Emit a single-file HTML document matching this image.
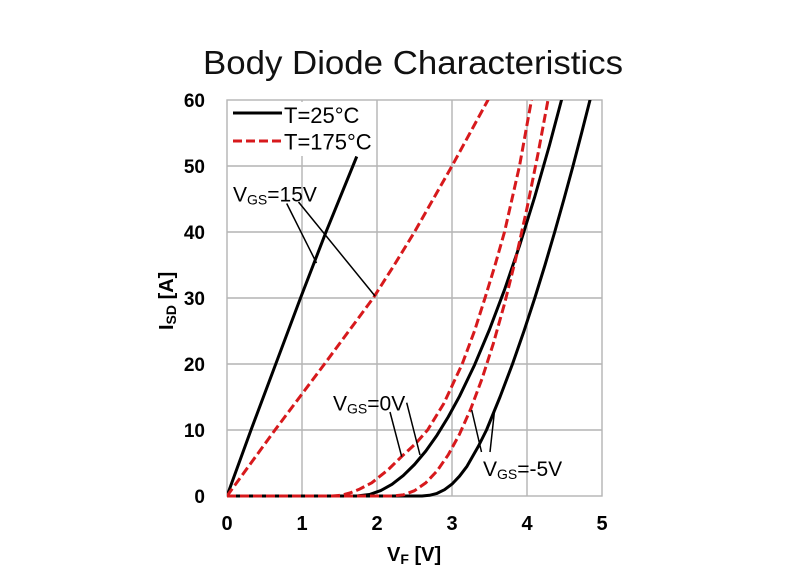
<!DOCTYPE html>
<html>
<head>
<meta charset="utf-8">
<style>
html,body{margin:0;padding:0;background:#fff;}
svg{display:block;}
text{font-family:"Liberation Sans",Arial,sans-serif;}
</style>
</head>
<body>
<svg width="800" height="577" viewBox="0 0 800 577" xmlns="http://www.w3.org/2000/svg">
<defs>
<clipPath id="pc"><rect x="227" y="100" width="376" height="400"/></clipPath>
</defs>
<rect x="0" y="0" width="800" height="577" fill="#fff"/>

<!-- Title -->
<text x="203" y="74" font-size="33" fill="#111" textLength="420" lengthAdjust="spacingAndGlyphs">Body Diode Characteristics</text>

<!-- grid -->
<g stroke="#b4b4b4" stroke-width="1.4" fill="none">
<line x1="302" y1="100" x2="302" y2="496"/>
<line x1="377" y1="100" x2="377" y2="496"/>
<line x1="452" y1="100" x2="452" y2="496"/>
<line x1="527" y1="100" x2="527" y2="496"/>
<line x1="227" y1="166" x2="602" y2="166"/>
<line x1="227" y1="232" x2="602" y2="232"/>
<line x1="227" y1="298" x2="602" y2="298"/>
<line x1="227" y1="364" x2="602" y2="364"/>
<line x1="227" y1="430" x2="602" y2="430"/>
<rect x="227" y="100" width="375" height="396"/>
</g>

<!-- curves -->
<g clip-path="url(#pc)" fill="none" stroke-linejoin="round">
<!-- black 15V -->
<polyline stroke="#000" stroke-width="3" points="227,496 251,430 275.75,364 300.5,298 326,232 356.75,156.5"/>
<!-- black 0V -->
<polyline stroke="#000" stroke-width="3" points="227,496 356.75,496 369.5,494.5 380.75,490.6 392,484.3 403.25,475.6 414.5,464.5 425.75,451.1 437,435.2 448.25,416.9 459.5,396.3 474.5,365.1 489.5,329.5 504.5,289.8 519.5,245.8 534.5,197.6 549.5,145.1 561.5,100 564.5,88.3"/>
<!-- black -5V -->
<polyline stroke="#000" stroke-width="3" points="227,496 422,496 429.5,495.3 437,493.4 444.5,489.7 452,484.1 459.5,476.2 467,466.3 478.25,446.5 486.5,430 493.25,413.5 500,397 512.5,364 524,331 534.8,298 545,265 554.7,232 564,199 573,166 581.6,133 590,100 593.3,86.8"/>
<!-- red 15V -->
<polyline stroke="#d7191c" stroke-width="3" stroke-dasharray="9 4" points="227,496 275,430 324.5,364 373.25,298 394.25,265 414.5,232 433.25,199 452,166 470,133 488,100 490,90"/>
<!-- red 0V -->
<polyline stroke="#d7191c" stroke-width="3" stroke-dasharray="9 4" points="227,496 332,496 341,495.3 350.75,492.7 359,489.4 371.75,482.8 388.25,469.6 401.75,456.4 416,443.2 427.6,430 443.75,403.6 462.2,364 474.5,331 485,298 495.1,265 504.5,232 512,199 519.5,166 525.5,133 531.5,100 533.75,86.8"/>
<!-- red -5V -->
<polyline stroke="#d7191c" stroke-width="3" stroke-dasharray="9 4" points="227,496 392.75,496 403.25,494.9 414.5,490.7 425.75,482.9 437,471 448.25,454.8 459.5,434.2 470.75,408.9 482,378.8 493.25,343.8 504.5,303.8 515.75,258.7 527,208.2 538.25,152.5 548,100 551,82.8"/>
</g>

<!-- legend -->
<rect x="229" y="102" width="147" height="54" fill="#fff"/>
<line x1="233" y1="113" x2="282" y2="113" stroke="#000" stroke-width="3"/>
<line x1="233" y1="141" x2="282" y2="141" stroke="#d7191c" stroke-width="3" stroke-dasharray="9 4"/>
<text x="284" y="123" font-size="22" fill="#000">T=25°C</text>
<text x="284" y="149.5" font-size="22" fill="#000">T=175°C</text>

<!-- annotation pointer lines -->
<g stroke="#000" stroke-width="1.5" fill="none">
<line x1="286.7" y1="203.5" x2="316.5" y2="263"/>
<line x1="298.5" y1="202" x2="375" y2="296"/>
<line x1="390" y1="412" x2="401.7" y2="456.7"/>
<line x1="406.7" y1="402.7" x2="420" y2="455"/>
<line x1="471.7" y1="410" x2="481.5" y2="452"/>
<line x1="494.5" y1="411" x2="490" y2="452"/>
</g>

<!-- annotation labels -->
<text x="233" y="201.5" font-size="21" fill="#000">V<tspan font-size="14" dy="3">GS</tspan><tspan dy="-3">=15V</tspan></text>
<text x="333" y="410.5" font-size="21" fill="#000">V<tspan font-size="14" dy="3">GS</tspan><tspan dy="-3">=0V</tspan></text>
<text x="483" y="476" font-size="21" fill="#000">V<tspan font-size="14" dy="3">GS</tspan><tspan dy="-3">=-5V</tspan></text>

<!-- y tick labels -->
<g font-size="19" font-weight="bold" fill="#000" text-anchor="end">
<text x="205" y="503">0</text>
<text x="205" y="437">10</text>
<text x="205" y="371">20</text>
<text x="205" y="305">30</text>
<text x="205" y="239">40</text>
<text x="205" y="173">50</text>
<text x="205" y="107">60</text>
</g>

<!-- x tick labels -->
<g font-size="20" font-weight="bold" fill="#000" text-anchor="middle">
<text x="227" y="530">0</text>
<text x="302" y="530">1</text>
<text x="377" y="530">2</text>
<text x="452" y="530">3</text>
<text x="527" y="530">4</text>
<text x="602" y="530">5</text>
</g>

<!-- axis titles -->
<text x="387" y="561" font-size="20" font-weight="bold" fill="#000">V<tspan font-size="14" dy="3">F</tspan><tspan dy="-3"> [V]</tspan></text>
<text transform="translate(173,330) rotate(-90)" x="0" y="0" font-size="20" font-weight="bold" fill="#000">I<tspan font-size="14" dy="3">SD</tspan><tspan dy="-3"> [A]</tspan></text>
</svg>
</body>
</html>
